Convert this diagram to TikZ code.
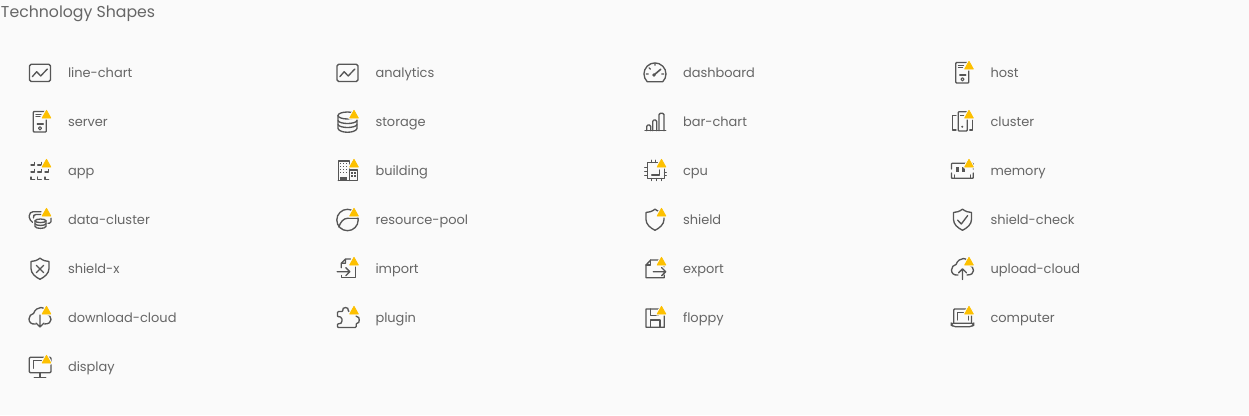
\documentclass[tikz,border=0pt]{standalone}
\usepackage{fontspec}
\setmainfont{Poppins}
\definecolor{pagebg}{HTML}{FAFAFA}
\definecolor{icongray}{HTML}{565656}
\definecolor{labelgray}{HTML}{666666}
\definecolor{warnyellow}{HTML}{FDC000}
\tikzset{
  ln/.style={draw=icongray,line width=1pt,line join=round,line cap=round},
  lbl/.style={anchor=base west,inner sep=0pt,outer sep=0pt,text=labelgray,font=\fontsize{9.72pt}{12pt}\selectfont},
  ttl/.style={anchor=base west,inner sep=0pt,outer sep=0pt,text=labelgray,font=\fontsize{11.8pt}{14pt}\selectfont},
  warn/.pic={
    \path[fill=pagebg,draw=pagebg,line width=2pt,line join=round] (6.5,-11) -- (11,-2.8) -- (2,-2.8) -- cycle;
    \path[fill=warnyellow,draw=warnyellow,line width=0.5pt,line join=round] (6.5,-10.8) -- (10.9,-3) -- (2.1,-3) -- cycle;
  },
  ic-chart/.pic={
    \draw[ln,rounded corners=1.2] (-10.5,-7.7) rectangle (10.5,9.5);
    \draw[ln] (-7.7,4.7) -- (-3.3,-0.3) -- (0.7,4) -- (7.3,-3);
  },
  ic-server/.pic={
    \draw[ln,rounded corners=0.6] (-6.7,-9.5) rectangle (6.3,11);
    \draw[ln] (-4,-6.8) -- (1,-6.8) (-4,-4.2) -- (0,-4.2) (-2.7,3) -- (3.3,3);
    \draw[ln,line width=0.8pt] (0,7.3) circle (1.6);
  },
  ic-app/.pic={
    \foreach \cx in {-9,-2.3,5}{
      \draw[ln] (\cx,7) -- (\cx,9.7) -- (\cx+3.6,9.7);
      \draw[ln] (\cx,2) -- (\cx+3.6,2) -- (\cx+3.6,-0.5);
    }
    \draw[ln] (-9,-5) -- (-5.4,-5) -- (-5.4,-7.5);
    \draw[ln] (-2.3,-5) -- (1.3,-5) -- (1.3,-7.5);
  },
  ic-datacluster/.pic={
    \draw[ln,rounded corners=1.2] (1,-7.3) -- (-8.5,-7.3) -- (-10.7,-5) -- (-10.7,0) -- (-7.5,3.3);
    \draw[ln,rounded corners=1] (1,-4.5) -- (-5.5,-4.5) -- (-6.5,-3) -- (-6.5,-1);
    \draw[ln] (-5,1.8) arc[start angle=180,end angle=540,x radius=5.5,y radius=1.8];
    \draw[ln] (-5,1.8) -- (-5,7.5) .. controls (-4,10) and (5,10) .. (6,7.5) -- (6,1.8);
    \draw[ln] (-5,4.8) .. controls (-4,7) and (5,7) .. (6,4.8);
    \draw[ln,rounded corners=1] (11,-1) -- (11,4) -- (8,4.3);
  },
  ic-shield/.pic={
    \draw[ln] (0,-9.8) .. controls (-3,-7.5) and (-6,-6.7) .. (-9,-6.5) -- (-9,0.5)
       .. controls (-9,5.5) and (-4.5,9) .. (0,11.3)
       .. controls (4.5,9) and (9,5.5) .. (9,0.5) -- (9,-6.5)
       .. controls (6,-6.7) and (3,-7.5) .. (0,-9.8) -- cycle;
  },
  ic-shieldx/.pic={
    \pic {ic-shield};
    \draw[ln] (-3.6,-2.6) -- (3.6,4.6) (3.6,-2.6) -- (-3.6,4.6);
  },
  ic-shieldcheck/.pic={
    \pic {ic-shield};
    \draw[ln] (-5,1) -- (-1.2,5) -- (5.2,-3.5);
  },
  ic-cloud/.pic={
    \draw[ln] (-4.5,7) .. controls (-9,7.5) and (-11,5) .. (-11,2)
       .. controls (-11,-1) and (-9,-3) .. (-6.5,-3.5)
       .. controls (-5,-7.5) and (-2,-9.5) .. (1,-9.5)
       .. controls (4,-9.5) and (6,-6.5) .. (7,-3)
       .. controls (9.5,-2) and (11,0) .. (11,2.5)
       .. controls (11,5) and (9,7) .. (4.5,7);
  },
  ic-upload/.pic={
    \pic {ic-cloud};
    \draw[ln] (0,11.5) -- (0,1) (-4,4.8) -- (0,0.8) -- (4,4.8);
  },
  ic-download/.pic={
    \pic {ic-cloud};
    \draw[ln] (0,-2) -- (0,10) (-4,6) -- (0,10) -- (4,6);
  },
  ic-display/.pic={
    \draw[ln,rounded corners=0.8] (-10.7,-8.7) rectangle (11,6.7);
    \draw[ln] (-6.7,2.3) -- (-6.7,-5.3) -- (2,-5.3);
    \draw[ln] (0,6.7) -- (0,11) (-5.7,11.3) -- (5.7,11.3);
  },
  ic-storage/.pic={
    \draw[ln] (-9.5,-5.5) arc[start angle=180,end angle=540,x radius=9.5,y radius=3.5];
    \draw[ln] (-9.5,-5.5) -- (-9.5,7.5) .. controls (-8,12.5) and (8,12.5) .. (9.5,7.5) -- (9.5,-5.5);
    \draw[ln] (-9.5,-0.5) .. controls (-8,3.5) and (8,3.5) .. (9.5,-0.5);
    \draw[ln] (-9.5,3.5) .. controls (-8,7.5) and (8,7.5) .. (9.5,3.5);
  },
  ic-building/.pic={
    \draw[ln,line width=0.8pt] (-9.3,10.5) -- (-9.3,-9) -- (2,-9) -- (2,10.5);
    \draw[ln,line width=0.8pt] (2,0) -- (9.7,0) -- (9.7,10.5) -- (-9.3,10.5);
    \foreach \wx in {-7,-4,-1}{\foreach \wy in {-6.5,-3.5,-0.5,2.5}{
      \fill[icongray] (\wx-0.7,\wy-0.7) rectangle (\wx+0.7,\wy+0.7);}}
    \foreach \wx in {4.5,7.5}{\foreach \wy in {3,6}{
      \fill[icongray] (\wx-0.6,\wy-0.6) rectangle (\wx+0.6,\wy+0.6);}}
    \fill[icongray] (-7.5,6.8) rectangle (-1,10.5);
  },
  ic-pool/.pic={
    \draw[ln] (0,1) circle (10.7);
    \draw[ln] (-8.7,8) .. controls (-7,3) and (-4,-0.7) .. (0,-0.7) -- (10.7,-0.7);
  },
  ic-import/.pic={
    \draw[ln] (-10.3,3.7) -- (2.3,3.7) (-1.7,-0.3) -- (2.3,3.7) -- (-1.7,7.7);
    \draw[ln] (-6.3,-0.3) -- (-6.3,-4.7) -- (-2,-9) -- (3,-9) (-2,-9) -- (-2,-4.7) -- (-6.3,-4.7);
    \draw[ln] (8,-2.3) -- (8,9.7) -- (-6.3,9.7) -- (-6.3,7.5);
  },
  ic-plugin/.pic={
    \draw[ln,rounded corners=0.7] (-10,10.5) -- (-10,6.5) .. controls (-7,7.5) and (-5.5,5.5) .. (-5.5,3)
      .. controls (-5.5,0.5) and (-8,-1) .. (-10,0) -- (-10,-5.5) -- (-4.5,-5.5)
      .. controls (-6,-10.5) and (2,-10.5) .. (0.5,-5.5) -- (8.7,-5.5) -- (8.7,0)
      .. controls (12.5,-1) and (12.5,7) .. (8.7,6) -- (8.7,10.5) -- cycle;
  },
  ic-dashboard/.pic={
    \draw[ln] (-7.8,9.7) arc[start angle=135,end angle=405,radius=11] -- cycle;
    \draw[ln,line width=1.2pt] (-1,3) -- (5.7,-2.7);
    \fill[icongray] (-1,3) circle (1.9);
    \draw[ln] (0,-8.8) -- (0,-6.8) (-8.8,2) -- (-6.8,2) (8.8,2) -- (6.8,2) (-6,-4.2) -- (-4.6,-2.8);
  },
  ic-barchart/.pic={
    \draw[ln] (-10,9.7) -- (10.7,9.7);
    \draw[ln,rounded corners=1] (-8.3,9.7) -- (-8.3,4) -- (-4.3,4) -- (-4.3,9.7);
    \draw[ln,rounded corners=1] (-2.3,9.7) -- (-2.3,-1) -- (1.7,-1) -- (1.7,9.7);
    \draw[ln,rounded corners=1] (4,9.7) -- (4,-7.7) -- (9,-7.7) -- (9,9.7);
  },
  ic-cpu/.pic={
    \draw[ln] (-7.7,-7.3) rectangle (9.3,8.3);
    \draw[ln] (-3.3,5) -- (4.3,5) -- (4.3,0);
    \foreach \ty in {-3,1,5}{\draw[ln,line width=0.7pt] (-10.3,\ty) -- (-7.7,\ty);}
    \foreach \ty in {2,5}{\draw[ln,line width=0.7pt] (9.3,\ty) -- (11.3,\ty);}
    \foreach \tx in {-4,1,6}{\draw[ln,line width=0.7pt] (\tx,8.3) -- (\tx,10.7);}
    \foreach \tx in {-4,0}{\draw[ln,line width=0.7pt] (\tx,-7.3) -- (\tx,-9.8);}
  },
  ic-export/.pic={
    \draw[ln] (9.3,7) -- (9.3,9.7) -- (-9,9.7) -- (-9,-3) -- (-4.3,-8) -- (3.3,-8) -- (9.3,-1.3);
    \draw[ln] (-9,-3) -- (-4.3,-3) -- (-4.3,-8);
    \draw[ln] (-1.7,3.7) -- (10.7,3.7) (6.7,-0.3) -- (10.7,3.7) -- (6.7,7.7);
  },
  ic-floppy/.pic={
    \draw[ln] (-9,-8) -- (5,-8) -- (9.3,-4) -- (9.3,10.3) -- (-9,10.3) -- cycle;
    \draw[ln] (-4.3,-8) -- (-4.3,-1.3) -- (3.3,-1.3) -- (3.3,-8);
    \draw[ln] (-4.3,10.3) -- (-4.3,3) -- (5,3) -- (5,10.3);
  },
  ic-cluster/.pic={
    \draw[ln,rounded corners=0.6] (-4.3,-9.3) rectangle (4.7,10);
    \draw[ln] (-2,-5.3) -- (1.3,-5.3);
    \fill[icongray] (-0.3,5.7) circle (1.1);
    \draw[ln] (-6.5,-5.3) -- (-9.7,-5.3) -- (-9.7,9) -- (-6.5,9);
    \draw[ln] (9.7,-1) -- (9.7,9) -- (7.3,9);
  },
  ic-memory/.pic={
    \draw[ln,rounded corners=0.5] (-11,-1) -- (-11,-6.7) -- (10.7,-6.7) -- (10.7,-1);
    \draw[ln,rounded corners=0.5] (-11,3) -- (-11,8.3) -- (10.7,8.3) -- (10.7,3);
    \fill[icongray] (-6.3,-3.3) rectangle (-3.9,1.7);
    \fill[icongray] (-0.3,-3.3) rectangle (2.1,1.7);
    \draw[ln] (-8,5) -- (-8,8.3) (8,5) -- (8,8.3);
  },
  ic-computer/.pic={
    \draw[ln,rounded corners=0.6] (-8.7,6.3) -- (-8.7,-8) -- (9,-8) -- (9,6.3);
    \draw[ln] (-5.3,3) -- (-5.3,-4.7) -- (1.3,-4.7) (5.7,-1) -- (5.7,3);
    \draw[ln,rounded corners=1.5] (-11.3,6.3) -- (11.3,6.3) -- (11.3,8) -- (9,9.7) -- (-9,9.7) -- (-11.3,8) -- cycle;
  }
}
% \shapecell{node name}{col x}{row y}{icon}{label}{y when it has a warning mark}
\newcommand{\shapecell}[6]{%
  \pic at (#2,#3) {ic-#4};
  \ifx#6y\pic at (#2,#3) {warn};\fi
  \node[lbl] (#1) at (#2+28,#3+5) {#5};
}
\begin{document}
\begin{tikzpicture}[x=0.75pt,y=-0.75pt]
\useasboundingbox (0,0) rectangle (1249,415);
\fill[pagebg] (0,0) rectangle (1249,415);
\node[ttl] (title) at (1,17) {Technology Shapes};
\shapecell{a1}{40}{72}{chart}{line-chart}{n}
\shapecell{a2}{40}{121}{server}{server}{y}
\shapecell{a3}{40}{170}{app}{app}{y}
\shapecell{a4}{40}{219}{datacluster}{data-cluster}{y}
\shapecell{a5}{40}{268}{shieldx}{shield-x}{n}
\shapecell{a6}{40}{317}{download}{download-cloud}{y}
\shapecell{a7}{40}{366}{display}{display}{y}
\shapecell{b1}{347.5}{72}{chart}{analytics}{n}
\shapecell{b2}{347.5}{121}{storage}{storage}{y}
\shapecell{b3}{347.5}{170}{building}{building}{y}
\shapecell{b4}{347.5}{219}{pool}{resource-pool}{y}
\shapecell{b5}{347.5}{268}{import}{import}{y}
\shapecell{b6}{347.5}{317}{plugin}{plugin}{y}
\shapecell{c1}{655}{72}{dashboard}{dashboard}{n}
\shapecell{c2}{655}{121}{barchart}{bar-chart}{n}
\shapecell{c3}{655}{170}{cpu}{cpu}{y}
\shapecell{c4}{655}{219}{shield}{shield}{y}
\shapecell{c5}{655}{268}{export}{export}{y}
\shapecell{c6}{655}{317}{floppy}{floppy}{y}
\shapecell{d1}{962.5}{72}{server}{host}{y}
\shapecell{d2}{962.5}{121}{cluster}{cluster}{y}
\shapecell{d3}{962.5}{170}{memory}{memory}{y}
\shapecell{d4}{962.5}{219}{shieldcheck}{shield-check}{n}
\shapecell{d5}{962.5}{268}{upload}{upload-cloud}{y}
\shapecell{d6}{962.5}{317}{computer}{computer}{y}
\end{tikzpicture}
\end{document}
